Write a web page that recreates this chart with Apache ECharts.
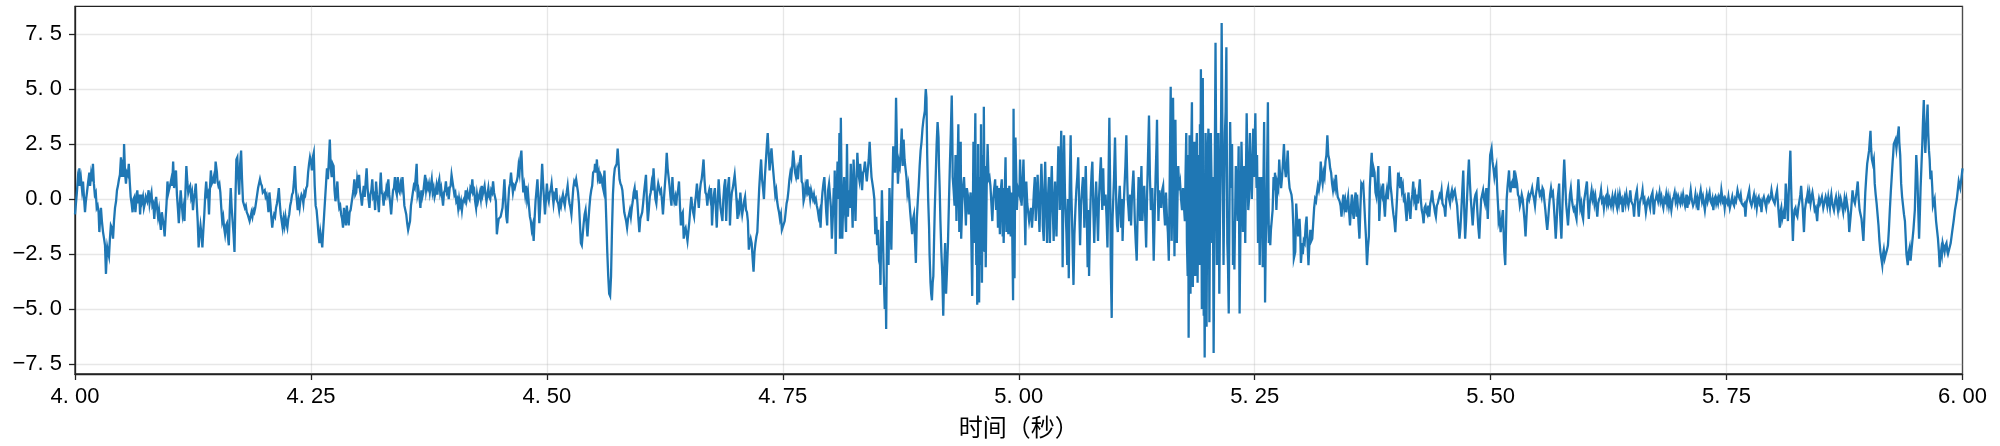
<!DOCTYPE html>
<html><head><meta charset="utf-8">
<script src="https://cdn.jsdelivr.net/npm/echarts@6/dist/echarts.min.js"></script>
<style>html,body{margin:0;padding:0;background:#fff}#c{width:2000px;height:446px}</style>
</head><body><div id="c"></div>
<script>
// Each block: [milliseconds after block start, amplitude]
const s400=[[0,-0.7],[1,-0.2],[2,0.3],[3,0.9],[4,0.6],[4.6,1.4],[5.5,0.6],[6.4,0.9],[7.5,0.4],[8.5,0.8],[9.5,0.1],[10.6,-0.6],[11.5,-0.1],[12.7,0.3],[14,0.8],[15.2,1.2],[16,0.6],[17,1.1],[18,0.8],[19,1.6],[20,0.7],[21,0.2],[22,0.3],[23,-0.4],[24,-0.3],[25,-0.6],[25.8,-1.5],[26.6,-0.9],[27.5,-0.4],[28.5,-1.0],[29.7,-1.5],[30.8,-1.8],[31.8,-2.1],[32.8,-3.4],[33.5,-2.7],[34.2,-2.2],[35,-2.4],[36,-2.6],[37,-1.8],[38,-1.2],[39,-1.3],[40.3,-1.8],[41.3,-1.0],[42.4,-0.4],[43.5,-0.1],[44.5,0.4],[45.5,0.6],[46.6,0.9],[47.6,1.1],[48.7,1.9],[49.5,1.0]];
const s405=[[0.6,1.8],[1.4,1.0],[2,2.5],[3,1.2],[4,0.7],[5,1.2],[6,1.1],[7,1.6],[8,0.8],[9,0.1],[10,-0.2],[11,-0.6],[12,0],[13,0.1],[14,-0.6],[15,-0.1],[16,0.4],[17,-0.2],[18,0.2],[19,-0.7],[20,0.2],[21,-0.1],[22,0.1],[23,-0.4],[24,-0.2],[25,0.1],[26.5,-0.1],[28,0.4],[29,-0.2],[30,0.1],[31,0.3],[32,-0.3],[33,-0.2],[34,-0.9],[35,-0.3],[36,0.1],[37,-0.4],[38,-0.8],[39,-0.5],[40,-1.0],[41,-1.4],[42,-0.6],[43,-0.9],[44,-1.2],[45,-1.7],[46,-0.9],[47,-0.2],[48,0.8],[49,0.3]];
const s410=[[0.6,0.6],[2,0.9],[3,0.6],[4,1.7],[5,0.5],[6,1.0],[7,1.3],[8,0.2],[9,-0.4],[10,-1.1],[11,-0.3],[12,0.4],[13,-0.2],[14,-0.7],[15,-0.4],[16,-1.0],[17,0.3],[18,1.5],[19,0.8],[20,0.3],[21,0.5],[22,0.6],[23,0.1],[24,0.3],[25,-0.5],[26,0],[27,0.3],[28,0.7],[29,-0.2],[30,-1.0],[31,-2.2],[32,-1.6],[33,-1.2],[34,-1.6],[35,-2.2],[36,-1.4],[37,-0.7],[38,0.2],[39,0.8],[40,0.2],[41,0.3],[42,-0.7],[43,0.5],[44,1.3],[45,0.7],[46,0.8],[47,1.0],[48,0.7],[49,1.7]];
const s415=[[0.4,1.2],[1,0.8],[2,0.6],[3,0.7],[4,0.3],[5,-0.4],[6,-1.0],[7,-0.8],[8,-1.3],[9,-1.6],[10,-1.2],[11,-1.1],[12,-1.7],[13,-2.1],[14,-0.5],[15,0.5],[16,-0.4],[17,-1.0],[18,-1.6],[19,-2.4],[20,0],[21,1.8],[22,1.9],[23,0.9],[24,0.2],[25,1.6],[26,2.2],[27,0.9],[28,-0.1],[29,-0.1],[30,-0.4],[31,-0.3],[32,-0.6],[33,-0.7],[34,-0.7],[35,-1.0],[36,-0.8],[37,-0.6],[38,-0.8],[39,-0.5],[40,-0.6],[41,-0.4],[42,-0.1],[43,0.2],[44,0.5],[45,0.5],[46,0.9],[47,0.7],[48,0.6],[49,0.3]];
const s420=[[1,0.4],[2,0.1],[3,0.2],[4,-0.1],[5,-0.6],[6,0.3],[7,-0.2],[8,-0.8],[9,-1.3],[10,-0.9],[11,-0.7],[12,-0.8],[13,-0.4],[14,-0.2],[15,0.1],[16,0.5],[17,-0.2],[18,-0.7],[19,-1.0],[20,-1.3],[21,-0.9],[22,-1.2],[23,-0.8],[24,-1.1],[25,-1.3],[26,-0.9],[27,-0.7],[28,-0.3],[29,-0.1],[30,0.2],[31,0.3],[32,0.8],[33,1.5],[34,0.5],[35,0],[36,-0.5],[37,-0.1],[38,-0.4],[39,0],[40,0.2],[41,0.1],[42,-0.2],[43,0.3],[44,0.2],[45,0.5],[46,0.6],[47,1.2],[48,1.6],[49,1.9]];
const s425=[[0.4,1.6],[1,1.3],[2,1.9],[3,2.1],[4,0.6],[5,-0.3],[6,-0.5],[7,-1.0],[8,-1.6],[9,-2.0],[10,-1.5],[11,-1.8],[12,-2.2],[13,-1.4],[14,-0.7],[15,0],[16,0.7],[17,1.4],[18,0.9],[19,0.9],[20,2.7],[21,1.4],[22,1.0],[23,1.6],[24,1.5],[25,0.4],[26,-0.1],[27,0.3],[28,0.8],[29,0],[30,-0.4],[31,-0.3],[32,-0.7],[33,-0.9],[34,-1.3],[35,-0.4],[36,-0.8],[37,-1.2],[38,-0.3],[39,-0.8],[40,-1.2],[41,-0.6],[42,-0.5],[43,-0.2],[44,0.1],[45,0.4],[46,0.9],[47,0.2],[48,0.3],[49,0.9]];
const s430=[[0.4,0.5],[1,1.1],[2,0.4],[3,0.1],[4,-0.3],[5,0.2],[6,0.6],[7,0.1],[8,0.8],[9,1.4],[10,0.5],[11,0],[12,-0.4],[13,0.2],[14,0.4],[15,0.9],[16,0.1],[17,0.2],[18,-0.5],[19,0.8],[20,0.2],[21,-0.1],[22,-0.6],[23,0.4],[24,1.2],[25,0.3],[26,0.2],[27,-0.3],[28,0.2],[29,0.1],[30,0.5],[31,0.3],[32,0.9],[33,0.2],[34,-0.2],[35,-0.7],[36,-0.1],[37,0.4],[38,0.5],[39,1.0],[40,0.4],[41,0.2],[42,1.0],[43,0.4],[44,0.3],[45,0.7],[46,0.5],[47,1.0],[48,0.4],[49,-0.3]];
const s435=[[1,-0.7],[2,-1.1],[3,-1.4],[4,-1.2],[5,-1.0],[6,-0.3],[7,0],[8,0.3],[9,0.6],[10,0.5],[11,1.0],[12,1.6],[13,0.2],[14,0.4],[15,0.1],[16,-0.4],[17,0.4],[18,0.1],[19,0.3],[20,0.7],[21,1.1],[22,0.4],[23,0.7],[24,0.5],[25,0.7],[26,0.3],[27,0.6],[28,0.9],[29,0.3],[30,0.5],[31,0.1],[32,0.3],[33,0.6],[34,0.2],[35,0.7],[36,0.9],[37,0.3],[38,0.5],[39,0.1],[40,-0.3],[41,0.3],[42,0.4],[43,0.8],[44,0.3],[45,0.4],[46,0],[47,0.5],[48,0.6],[49,1.1]];
const s440=[[1,0.5],[2,0.2],[3,0.3],[4,-0.1],[5,0],[6,-0.4],[7,0],[8,-0.3],[9,-0.1],[10,-0.5],[11,-0.1],[12,0],[13,-0.1],[14,0.4],[15,0],[16,0.3],[17,0.1],[18,0],[19,0.5],[20,0.4],[21,0.9],[22,0.3],[23,0.4],[24,-0.1],[25,-0.4],[26,0.2],[27,-0.1],[28,0.1],[29,0.3],[30,0],[31,0.6],[32,0.2],[33,0.4],[34,0.6],[35,0.2],[36,-0.1],[37,0.2],[38,0.5],[39,0.1],[40,0],[41,0.4],[42,0.3],[43,0.8],[44,0.3],[45,0.1],[46,-0.1],[47,-1.6],[48,-1.2],[49,-0.9]];
const s445=[[1,-0.8],[2,-0.6],[3,-0.4],[4,0.2],[5,0.9],[6,0],[7,-0.8],[8,-1.1],[9,-0.2],[10,0.5],[11,0.7],[12,1.2],[13,0.7],[14,0.3],[15,0.6],[16,0.5],[17,0.7],[18,0.8],[19,1.0],[20,1.5],[21,1.2],[22,1.9],[23,2.2],[24,1.1],[25,0.3],[26,0.6],[27,0.2],[28,0.6],[29,0],[30,0.3],[31,-0.3],[32,-0.8],[33,-1.0],[34,-1.4],[35,-1.2],[36,-1.9],[37,-0.9],[38,-0.1],[39,0.4],[40,0.9],[41,0],[42,-1.1],[43,-0.3],[44,0.6],[45,1.6],[46,0.7],[47,0],[48,-0.7],[49,0]];
const s450=[[0,0.7],[1,0.1],[2,-0.1],[3,0.3],[4,0.4],[5,0.7],[6,0.2],[7,-0.2],[8,0.2],[9,0.1],[10,0.5],[11,-0.1],[12,-0.2],[13,-0.5],[14,-0.1],[15,-0.3],[16,0],[17,0.2],[18,-0.1],[19,-0.3],[20,0.1],[21,0.3],[22,0.6],[23,0.1],[24,-0.2],[25,-0.4],[26,-0.7],[27,-0.1],[28,0.5],[29,0.8],[30,0.7],[31,0.9],[32,0.9],[33,0.3],[34,-0.2],[35,-1.1],[36,-2.0],[37,-2.1],[38,-1.6],[39,-1.1],[40,-0.7],[41,-0.5],[42,-1.1],[43,-1.7],[44,-1.0],[45,-0.4],[46,0.1],[47,0.4],[48,0.6],[49,1.2]];
const s455=[[0.5,1.3],[1,1.6],[2,1.2],[3,1.8],[4,1.0],[5,1.2],[6,0.7],[7,1.1],[8,1.0],[9,0.6],[10,0.4],[11,1.3],[12,0.3],[13,-1.0],[14,-2.4],[15,-3.5],[16,-4.3],[17,-4.4],[18,-3.5],[19,-1.4],[20,0.2],[21,1.0],[22,1.4],[23,1.5],[24,1.6],[25,2.3],[26,1.6],[27,0.9],[28,0.7],[29,0.6],[30,0.4],[31,-0.1],[32,-0.6],[33,-0.8],[34,-1.0],[35,-1.3],[36,-0.9],[37,-0.7],[38,-0.5],[39,-0.8],[40,-0.4],[41,-0.1],[42,0.3],[43,0.5],[44,0],[45,0.4],[46,-0.2],[47,-0.9],[48,-1.5],[49,-0.9]];
const s460=[[1,-0.6],[2,-0.2],[3,0.3],[4,0.7],[5,1.1],[6,-0.1],[7,-1.0],[8,-0.5],[9,0.1],[10,0.3],[11,0.7],[12,0.4],[13,1.4],[14,0.6],[15,0],[16,-0.2],[17,0.4],[18,0.7],[19,0.7],[20,0.3],[21,0.4],[22,-0.1],[23,-0.7],[24,0],[25,0.6],[26,1.2],[27,2.1],[28,1.4],[29,1.0],[30,0.6],[31,0.1],[32,-0.3],[33,1.0],[34,0.2],[35,-0.1],[36,0.1],[37,-0.3],[38,0.2],[39,0.4],[40,0.8],[41,-0.3],[42,-1.2],[43,-0.7],[44,-0.6],[45,-1.8],[46,-1.4],[47,-1.3],[48,-1.6],[49,-1.9]];
const s465=[[1,-1.0],[2,-0.4],[3,0.1],[4,-0.3],[5,-0.6],[6,-0.8],[7,-0.2],[8,0.2],[9,0.7],[10,0.1],[11,-0.4],[12,0.3],[13,0.7],[14,0.9],[15,1.3],[16,1.8],[17,0.9],[18,0.3],[19,0.2],[20,-0.3],[21,0.2],[22,0.4],[23,0.1],[24,0.5],[25,-1.2],[26,-0.3],[27,0.2],[28,0.5],[29,-0.4],[30,-1.3],[31,-0.2],[32,0.9],[33,0.2],[34,-0.4],[35,-0.7],[36,-1.0],[37,0],[38,0.6],[39,0.9],[40,-1.0],[41,0.2],[42,0.6],[43,1.0],[44,-1.2],[45,-0.2],[46,0.3],[47,0.5],[48,0.8],[49,1.1]];
const s470=[[0.5,0.3],[1,-0.1],[2,-0.9],[3,-0.3],[4,-0.5],[5,0.3],[6,-0.3],[7,-0.7],[8,-0.4],[9,-0.1],[10,0.1],[11,-0.5],[12,-0.6],[13,-1.0],[14,-2.3],[15,-2.0],[16,-1.8],[17,-2.0],[18,-2.7],[19,-3.3],[20,-2.4],[21,-2.0],[22,-1.7],[23,-1.5],[24,-0.5],[25,0.5],[26,1.2],[27,1.8],[28,0.9],[29,0.5],[30,0],[31,1.0],[32,1.7],[33,2.4],[34,3.0],[35,2.1],[36,1.3],[37,1.9],[38,2.3],[39,1.7],[40,1.2],[41,0.7],[42,0.2],[43,0.4],[44,-0.1],[45,-0.4],[46,-0.6],[47,-0.9],[48,-0.7],[49,-1.4]];
const s475=[[1,-1.4],[2,-1.0],[3,-0.6],[4,-0.2],[5,0],[6,0.4],[7,0.9],[8,1.2],[9,1.0],[10,1.5],[11,2.2],[12,1.7],[13,1.2],[14,1.0],[15,1.3],[16,0.9],[17,1.5],[18,1.7],[19,2.0],[20,0.8],[21,0.7],[22,-0.1],[23,0.1],[24,0.6],[25,0.4],[26,0.9],[27,0.3],[28,0.4],[29,0],[30,0.4],[31,0.4],[32,0],[33,0.2],[34,-0.1],[35,0],[36,-0.3],[37,-0.5],[38,-0.8],[39,-0.6],[40,-1.3],[41,-0.3],[42,0.3],[43,0.7],[44,1.0],[45,0.2],[46,-0.6],[47,-1.2],[48,0.4],[49,0.7]];
const s480=[[1,-0.4],[2,-1.8],[3,-0.8],[4,0.5],[4.5,-0.5],[5,1.3],[6,-2.5],[7,0.2],[8,1.7],[9,0],[10,3.0],[10.5,-1.8],[11.5,3.7],[12.3,0.5],[13,-1.8],[14,-0.2],[15,1.0],[16,-0.6],[17,-1.5],[18,2.5],[19,-0.8],[20,0.4],[21,-0.4],[22,1.6],[23,0.2],[24,-1.3],[25,1.8],[26,0.5],[27,-1.0],[28,0.8],[29,2.1],[30,1.2],[31,0.9],[32,1.6],[33,1.0],[34,0.4],[35,1.2],[36,1.3],[37,1.7],[38,1.2],[39,0.8],[40,1.3],[41,1.8],[42,2.6],[43,1.7],[44,1.0],[45,0.7],[46,0.4],[47,0],[48,-1.6],[49,-0.8]];
const s485=[[0,-2.1],[1,-1.4],[2,-2.8],[3,-3.0],[3.5,-3.9],[4.2,-1.6],[5,0.4],[6,-1.5],[7,-3.5],[8,-5.0],[9,-4.0],[9.5,-5.9],[10.5,-1.0],[11,-1.9],[12,-3.0],[13,0.5],[14,-0.8],[15,-2.3],[16,0.2],[17,2.4],[18,1.5],[19,1.2],[19.5,3],[20,4.6],[21,2.2],[22,0.7],[23,1.7],[24,1.5],[25,2.2],[26,3.2],[27,1.5],[28,2.7],[29,1.8],[30,1.4],[31,1.0],[32,0.3],[33,0.6],[34,0],[35,-0.6],[36,-1.1],[37,-1.6],[38,-0.9],[39,-0.7],[40,-1.8],[41,-2.9],[42,-0.9],[43,-0.1],[44,0.6],[45,1.5],[46,2.2],[47,2.6],[48,3.2],[49,3.6]];
const s490=[[0.5,4.0],[1,4.6],[1.5,5.0],[2.2,4.6],[3,2],[4,0],[5,-1.3],[5.5,-2.5],[6.5,-3.8],[7.2,-4.3],[8,-4.6],[8.8,-3.8],[9.5,-3.5],[10.2,-2.0],[11,-0.5],[12,1.0],[13,2.5],[14,3.5],[15,2.8],[15.5,1.5],[16.2,0.5],[17,-1],[18,-2.4],[19,-3.5],[20,-5.3],[21,-3.2],[22,-2.0],[23,-4.3],[24,-3.2],[25,-2.0],[26,-0.2],[27,1.5],[28,3.0],[29,4.7],[29.6,3],[30,1],[31,0.4],[32,-0.3],[33,2.0],[34,-1],[35,1],[36,3.4],[37,-1.5],[38.5,2.6],[39,-1.8],[40,-0.3],[41,0.6],[42,1.0],[43,0],[44,-1.2],[45,0.5],[46,0.2],[47,-0.7],[48,-0.2],[49,0.3]];
const s495=[[0.7,-4.4],[1.3,-1],[2,2.6],[2.5,0],[3,-2],[3.5,2],[4,3.9],[4.5,0],[5,-3],[5.5,1],[6,-4.8],[6.5,-2],[7,2.5],[7.5,-1],[8,-4.7],[8.5,-2],[9,1],[9.5,-3],[10,3.4],[10.5,0],[11,-3.8],[11.5,-1],[12,2],[12.5,-2.4],[13,4.2],[13.5,1],[14,-2],[14.5,1.5],[15,-3.1],[16,0.5],[17,2.5],[18,0.9],[19,1.0],[20,0.6],[21,-0.2],[22,-1],[23,0],[24,0.5],[25,0.9],[26,-0.5],[27,0.6],[28,-1.3],[29,0.5],[30,-1.6],[31,0.4],[32,0.9],[33,-1.7],[33.5,0.5],[34,-2.0],[35,0],[36,1.9],[37,-1.5],[37.5,0.3],[38,0.5],[38.5,-1.2],[39,-1.6],[40,0.6],[40.5,0.3],[41.5,-1.7],[42,0.3],[43,-1.2],[44,-4.6],[44.5,4.1],[45,0],[45.5,-3.6],[46.5,2.8],[47.5,0.8],[48,-0.5],[49,0.5]];
const s500=[[0.7,0.2],[1.4,1.8],[2.2,0.4],[3,-0.3],[4,0.6],[5,1.8],[6,0],[7,-2.1],[8,0.8],[9,-0.2],[10,-0.6],[11,-1.0],[12,-0.7],[13,-0.4],[14,-1.3],[15,-0.6],[16,0.3],[17,1.0],[18,-1.0],[19,0.2],[20,1.1],[21,-0.4],[22,-1.5],[23,0.3],[24,1.6],[25,0.3],[25.5,-1.2],[26.5,-1.9],[27.2,0.2],[28,1.7],[29,-0.3],[30,-2.0],[31,0.1],[32,1.0],[33,-2.0],[34,0.2],[35,1.5],[36,-0.4],[37,-1.9],[38,0.2],[38.5,0.8],[39,-0.4],[40,-1.7],[41,0.5],[42,2.4],[43,1.2],[43.5,-0.5],[44.2,1.2],[45,3.1],[46,0],[46.5,-3.1],[47.2,0],[48,2.9],[49,0.2]];
const s505=[[0.5,-1.5],[1.4,-3.0],[2.2,0],[3,-3.6],[4,0.5],[5,2.9],[5.7,0.4],[6.5,-1],[7.2,-2.5],[8,-3.9],[9,-1.6],[10,-0.5],[11,0.4],[12,1.0],[13,1.9],[14,-0.2],[15,-2.1],[16,-0.3],[17,0.4],[18,1.0],[19,0],[19.5,-1.3],[20.2,0.2],[21,1.5],[22,-0.5],[23,-3.1],[24,-0.5],[24.5,-3.5],[25.5,-1],[26.5,0.5],[27.2,1.2],[28,1.7],[29,-0.4],[30,-2.0],[31,-0.3],[32,0.8],[33,-0.5],[34,-1.9],[35,0],[36,1.0],[37,1.9],[38,0.3],[38.5,-0.5],[39.5,1.4],[40,0.4],[41,-0.3],[42,0.2],[43,-0.8],[44,-2.2],[45,0.6],[46,3.7],[47,0],[47.5,-3],[48.5,-5.4],[49.3,-1]];
const s510=[[1,1],[2,2.8],[3,0.5],[3.5,-0.5],[4.2,-1.2],[5,-1.5],[6,-0.2],[7,0.6],[8,-0.5],[8.5,-1.3],[9.5,0],[10,-1.9],[11,-0.5],[12,0.5],[13,1.5],[14,2.9],[15,0.8],[15.5,0],[16.2,-0.4],[17,-1],[18,0.2],[19,-1.2],[20,0.2],[21.5,1.3],[22.2,0.3],[23,-1],[24,-2.0],[25,-2.8],[26,-0.6],[27,1.0],[28,0],[28.5,-1.0],[29.2,0.3],[30,1.5],[31,-1],[32,0],[33,0.6],[34,-0.8],[35,-2.2],[36,0.2],[37,2],[38,3.8],[39,1],[40,-0.5],[41,0.2],[41.5,0.5],[42.2,-1],[43,-2.8],[44,-0.8],[45,1],[46,2.5],[46.5,3.6],[47.2,1],[48,-1.0],[49,0.4]];
const s515=[[1,-0.4],[2,0.4],[3,0.6],[4,-0.5],[5,-1.2],[6,0.3],[7,-0.8],[8,-1.5],[9,-2.8],[10,1],[11,5.1],[12,-1.9],[13,1],[13.5,4.6],[14.2,1],[15,-2.6],[16,3.6],[16.7,0.5],[17.5,-2.0],[18.2,0],[19,1.5],[20,0.4],[21,0.7],[22,0],[23,-0.5],[24,0.5],[25,-0.3],[26,-1],[26.7,1],[27.5,3.0],[28.2,-2],[29,-3.5],[29.5,2],[30,-6.3],[30.5,-1],[31,2.9],[31.5,-2],[32,-4.3],[32.7,2],[33.5,4.4],[34,0],[34.5,-4.0],[35.2,0],[36,2.6],[36.5,-1],[37,-3.5],[37.5,-1],[38,2.0],[38.7,3],[39.5,-3.8],[40.2,0],[41,2],[41.5,-3],[42,3.4],[42.5,0],[43,5.9],[43.5,1],[44,-5.0],[44.5,-1],[45,5.5],[45.5,0],[46,-5.3],[46.5,-3],[47,-7.2],[47.5,-3],[48,3.0],[48.5,0],[49,-5.8],[49.6,-1]];
const s520=[[0.5,2.5],[1,3.2],[1.5,0],[2,-5.6],[2.7,0],[3.5,3.0],[4.2,1],[5,-2],[5.7,1],[6.5,-7.0],[7.5,0],[8.5,7.1],[9.2,2],[10,-3],[10.7,0],[11.5,3],[12,0],[12.5,-4.3],[13.2,-1],[14,2],[14.5,4],[15,8.0],[16,2],[17,-3],[17.7,0],[18.5,3],[19.2,4],[20,6.9],[20.5,2],[21,-2],[21.7,-3],[22.5,-5.2],[23.2,-1],[24,3.5],[25,0.5],[26,2.5],[26.5,0],[27,-3.0],[27.7,-1],[28.5,-3.2],[29.2,-1],[30,1.5],[31,0.2],[32,-1],[32.5,1],[33,2.4],[33.5,-1],[34,-5.2],[35,-1],[36,2.6],[36.7,1],[37.5,-1.5],[38.2,0.2],[39,1.5],[39.5,0],[40,-2],[40.7,1],[41.5,3.9],[42.5,1],[43.2,-0.5],[44,0],[44.5,2],[45,3],[46,1],[47,0],[47.7,1.5],[48.5,3.2],[49.2,1]];
const s525=[[0.7,3.9],[1.4,1.5],[2,0.5],[2.5,2],[3,0],[3.5,-2],[4,0],[4.5,1],[5.3,-3],[6.2,-0.5],[7,1],[8,-1],[8.5,-3.1],[9.2,0.5],[10,3.5],[10.5,0],[11,-4.7],[11.7,-2],[12.5,-1],[13.2,1.5],[14,4.4],[14.5,1],[15,-2],[16,-1.2],[16.5,-2.1],[17.2,-1.4],[18,-1],[19,-0.5],[20,1.0],[21,0.4],[21.5,1.2],[22.2,0.5],[23,-0.5],[24,0.7],[25,0.5],[26,1.8],[27,1.0],[28,0.5],[29,1.0],[30,1.7],[31,2.5],[32,1.4],[33,1.0],[34,1.5],[35,2.2],[36,1.0],[37,0.5],[38,0.5],[39,0.2],[40,-0.2],[41,-1.3],[41.5,-2.7],[43,-2.4],[44,-0.2],[45,-1.0],[46,-1.7],[47,-1.2],[47.5,-0.9],[48.2,-1.5],[49,-2.9]];
const s530=[[0.5,-2.0],[1,-2.5],[2,-1.9],[3,-2],[4,-1.2],[5,-0.8],[6,-2.0],[7,-3.0],[8,-2],[9,-1.4],[10,-1.9],[11,-1.8],[12,-1.1],[13,-0.4],[14,0],[15,-0.1],[16,0.3],[17,0.6],[18,0.4],[19,0.7],[20,1.7],[21,1.0],[22,0.7],[23,1.2],[24,1.0],[25,1.7],[26,2.0],[27,2.9],[28,2.0],[29,1.8],[30,1.4],[31,1.2],[32,0.7],[33,0.4],[34,0.7],[35,0.5],[36,1.1],[37,0.5],[38,0.1],[39,0.1],[40,-0.1],[41,-0.3],[42,-0.8],[43,-0.2],[44,0.2],[45,-0.4],[46,-0.1],[47,-0.6],[48,-0.2],[49,0.1]];
const s535=[[1,-1.2],[2,-0.4],[3,0.2],[4,-0.6],[5,-0.9],[6,0],[7,0.3],[8,-0.8],[8.5,0.2],[9.5,-0.5],[10,-1.1],[11,-1.8],[12,-0.4],[13,0.7],[14,0.6],[15,0.7],[16,-0.1],[17,-1.0],[18,-1.8],[19,-3.0],[20,-2.2],[21,-1.7],[22,0.5],[23,1.4],[24,2.1],[25,1.0],[26,1.4],[27,1.2],[28,0.3],[29,0.1],[30,0.7],[31,1.5],[32,-1.0],[33,-0.1],[34,0.4],[35,0.2],[36,0.7],[37,-0.2],[38,-0.8],[39,0.1],[40,0.4],[41,0],[42,0.6],[43,1.5],[44,0.6],[45,0.2],[46,-0.3],[47,-0.7],[48,-1.0],[49,-1.5]];
const s540=[[1,0.2],[2,1.2],[3,0.6],[3.5,0.8],[4.2,0.5],[5,1.0],[6,0.4],[7,0.6],[8,0],[9,0.1],[10,-0.5],[11,-1.0],[12,-0.1],[13,0.3],[14,-0.5],[15,-0.9],[16,-0.1],[17,0.2],[18,0.8],[19,0],[20,0.2],[21,-0.5],[22,0.2],[23,-0.2],[24,0.4],[25,0.9],[26,0],[27,-0.5],[28,-0.7],[29,-1.1],[30,-0.4],[31,-0.3],[32,-0.6],[33,-0.7],[34,-0.3],[35,-0.8],[36,-0.2],[37,0],[38,0.4],[39,-0.1],[40,-0.3],[41,-0.6],[42,-0.8],[43,-0.3],[44,-0.2],[45,0],[46,0.2],[47,0.1],[48,0.4],[49,-0.2]];
const s545=[[1,-0.4],[2,-0.8],[3,0],[4,0.3],[5,0.5],[6,0],[7,-0.2],[8,0.2],[9,0.4],[10,0.1],[11,0.3],[12,0.4],[13,0.1],[14.5,-0.3],[15.5,-1.0],[17,-1.8],[18,-1.3],[19,-0.5],[20,0.4],[21,1.3],[22,-0.4],[23,-1.8],[24,-1],[25,0],[26,1],[27,1.8],[28,0.8],[29,0],[30,-0.6],[31,-1.2],[32,-0.5],[33,0],[34,0.2],[35,0.3],[36,-0.6],[37,-1.3],[38,-1.8],[39,-0.8],[40,0],[41,0.2],[42,0.4],[43,0],[44,-0.2],[45,0.3],[45.5,0.5],[46.2,-0.2],[47,-0.9],[48,0.5],[49,1.4],[49.5,2.0]];
const s550=[[1,2.3],[2,1.7],[3,1.4],[4,1.0],[5,1.3],[6,1.5],[7,0.4],[8,-0.4],[8.5,-1.0],[9.5,-0.8],[10.6,-1.5],[12,-0.9],[13,-0.5],[14.5,-2.4],[15.5,-3.0],[16.3,-1.4],[17,0],[18,0.6],[19.5,1.3],[20,0.8],[21,0.3],[22,0.7],[23,0.8],[24,0.5],[25,1.3],[26,0.7],[26.5,0.5],[27.2,0.9],[28,0.7],[29,0.2],[30,0.1],[31,-0.3],[32,-0.1],[33,0.2],[34,0],[35,-0.5],[36,-1.0],[37,-1.7],[38,-0.8],[39,0],[40,0.2],[41,0],[42,0.2],[43,0.3],[44,0.5],[45,0.2],[46,0],[47,-0.3],[48,0.2],[49,0.5]];
const s555=[[0.3,1.0],[1,0.5],[2,0.2],[3,0.3],[4,0.1],[5,0.5],[6,0.4],[7,-0.1],[8,-0.5],[9,-1.0],[10,-1.4],[11,-0.9],[12,-0.3],[13,0.2],[14,0.5],[15,0.2],[16,0.3],[17,-0.3],[18,-1.0],[19,-1.8],[20,-1],[21,0],[22.6,0.7],[23.5,-0.6],[25,-1.8],[26,-0.4],[27,0.8],[28,1.8],[29,0.8],[30,-0.2],[31,-0.7],[32,-1.2],[33,-0.5],[34,0.2],[35,0.5],[36,0],[37,-0.3],[38,-0.5],[39,-0.4],[40,-0.7],[41,-0.9],[42,0],[43,0.9],[44,0.2],[45,-0.4],[46,-0.2],[47,-0.7],[48,-0.9],[49,-0.1]];
const s560=[[1,0.5],[2,0.8],[3,-0.1],[4,-0.9],[5,-0.2],[6,0.1],[7,0.4],[8,0],[9,0.2],[10,-0.2],[11,0.1],[12,-0.3],[13,-0.8],[14,-0.2],[15,0],[16,0.1],[17,0.4],[18,-0.1],[19,0],[20,-0.4],[21,0],[22,0.1],[23,-0.2],[24,0.2],[25,-0.2],[26,0],[27.5,-0.3],[29,0.1],[30,-0.3],[31,0],[32,0.2],[33,-0.2],[34,-0.4],[35,0.1],[36,-0.2],[37,0.2],[38,-0.1],[39,0],[40,-0.6],[41,-0.1],[42,0.1],[43,-0.2],[44,0.2],[45,-0.1],[46,-0.3],[47,0],[48,0.4],[49,-0.1]];
const s565=[[1,-0.3],[2,-0.8],[3,-0.1],[4,0.2],[5,0.4],[6,-0.2],[7,-0.8],[8,-0.2],[9,0],[10,0.1],[11,0.4],[12,-0.1],[13,0],[14.5,-0.6],[16,-0.1],[17,0],[18,-0.2],[19,-0.4],[20,0.1],[21.5,0.3],[22.2,-0.2],[23,-0.7],[24,-0.1],[25,0],[26,0.2],[27.5,-0.1],[29,0.3],[30,-0.1],[31,0.1],[32,-0.2],[33,-0.4],[34,0],[35,-0.1],[36,0.2],[37,-0.2],[38,0.1],[39,-0.3],[40,0],[41.5,-0.5],[43,0],[44,0.1],[45,0.3],[46,-0.1],[47,0.1],[48,-0.2],[49,0.1]];
const s570=[[1,-0.2],[2,0.1],[3,-0.1],[4,0.2],[5,-0.1],[6,-0.3],[7,0],[7.5,0.2],[8.5,-0.4],[9.5,0],[10.5,-0.1],[12,0.4],[13,0],[14.5,-0.3],[16,-0.1],[17,0.2],[18,-0.2],[19,0],[20,-0.5],[21,0],[22.6,0.4],[24,-0.1],[25,0.1],[26,-0.2],[27,-0.5],[28,-0.1],[29,0.2],[30,-0.1],[31,0.1],[32,0.3],[33,-0.1],[34,-0.2],[35,0],[36,-0.5],[37,0],[38,0.1],[39,-0.2],[40,0],[41,-0.2],[42,0.1],[43.5,-0.1],[44.5,0.4],[46,-0.1],[47,0],[48,-0.4],[49,0]];
const s575=[[1,-0.2],[2,0.1],[3.5,-0.4],[5,-0.1],[6,0.1],[7,-0.2],[8,-0.3],[9,0],[10,-0.1],[11.6,0.4],[13,0.1],[14,0],[15,0.2],[16,-0.2],[17.6,-0.3],[19,-0.2],[20,-0.8],[21,-0.2],[22,0],[23,0.2],[24,0.4],[25,-0.1],[26.5,-0.3],[28,0],[29,0.2],[30,-0.2],[31,0],[32,-0.4],[33,0],[34,0.1],[35,-0.2],[36,-0.1],[37,-0.6],[38,-0.1],[39.5,0.1],[41,-0.2],[42,-0.4],[43,0],[44,0.1],[45,-0.1],[46,0],[47,0.2],[47.6,0.4],[49,0]];
const s580=[[1,-0.2],[2,0.1],[3.5,0.4],[5,-0.5],[6.4,-1.3],[7,-0.6],[8,-0.4],[9,-0.9],[10,-0.7],[11,-0.5],[11.6,-0.9],[12.7,0.7],[14,-0.2],[15,-1.0],[16,0.4],[17,1.6],[17.6,2.2],[18.3,0.8],[19,-0.3],[20.3,-1.9],[21,-1.0],[22,-0.5],[23,-0.4],[24,-0.7],[25,-0.8],[26,-0.4],[27.5,0],[28.2,0.2],[29,0.6],[30,0],[30.7,-0.4],[32,-1.5],[33,-0.5],[34.6,0],[35.3,0.1],[36,0.3],[37,-0.2],[38,0.2],[39,-0.2],[40,0.1],[41,0.3],[42,0],[43.4,-0.5],[44.5,-0.4],[46,-1.0],[47,-0.3],[48,0],[49,-0.2]];
const s585=[[1,0.1],[2.5,-0.4],[4,-0.1],[5,0.1],[6,-0.1],[6.7,-0.3],[7.8,0.1],[9.5,-0.4],[10,-0.1],[11,0.2],[12,-0.2],[13.8,-0.5],[15,-0.1],[16,0.1],[17,-0.2],[18,-0.5],[19,0],[20,-0.3],[21,0],[22,-0.2],[23.6,-0.6],[25,0],[26,-0.3],[27,0],[28,-0.3],[29,-0.6],[30,-1.5],[31,-1.0],[32,-0.5],[33.5,0.4],[34.5,0],[36,-0.2],[37,0.1],[38,0.4],[39,0.8],[40,0],[41,-0.5],[42,-0.7],[43,-0.9],[44,-1.4],[45,-1.9],[46,-0.8],[47,0.3],[48,1.0],[49,1.6]];
const s590=[[1,2.2],[2,2.8],[2.5,3.1],[3.2,2.3],[4,1.8],[5,1.6],[6,1.8],[7,0.7],[8,0.2],[9,-0.2],[10,-0.7],[11,-1.2],[12,-1.9],[13,-2.4],[14,-2.7],[15,-3.0],[15.8,-2.5],[16.6,-2.3],[17.6,-2.7],[18.7,-2.5],[20,-2.3],[21,-2.1],[22,-1.4],[23,-0.5],[24,0.3],[25,1.0],[26,1.7],[26.5,2.0],[27.2,2.5],[28,2.5],[29,2.7],[30,2.3],[31,2.7],[32.5,3.3],[33,2.6],[34,2.0],[35,0.7],[36,0.1],[37,-0.3],[38,-0.7],[39,-1.0],[40,-1.9],[40.6,-2.5],[42,-3.0],[43,-2.4],[44,-2.2],[45,-2.8],[46,-2.3],[47,-2.3],[48,-1.4],[49.5,-0.5]];
const s595=[[1,2.0],[2,1.2],[2.5,0.5],[3.2,-0.6],[4,-1.8],[5,-0.4],[5.6,0.5],[6.5,1.5],[7.4,2.5],[8.2,3.6],[9,4.5],[9.8,3.0],[10.6,2.1],[11.5,3.0],[13,4.3],[13.7,3.0],[14.5,2.2],[15.2,1.8],[16,0.9],[17,1.3],[18,0.5],[18.7,-0.3],[20.5,0],[21.2,-0.5],[22,-1.0],[23,-1.4],[24,-1.8],[25,-2.4],[25.8,-3.1],[26.6,-2.6],[27.5,-2.3],[28.2,-2.5],[29,-2.0],[30,-2.2],[31,-2.4],[32,-2.1],[33,-2.0],[34,-2.4],[34.6,-2.5],[36,-2.5],[37.5,-2.0],[39,-1.5],[40.6,-1.0],[42,-0.5],[44,0],[45,0.4],[46,0.8],[47,0.6],[47.6,0.5],[49,1.0],[50,1.4]];

const blocks=[s400,s405,s410,s415,s420,s425,s430,s435,s440,s445,s450,s455,s460,s465,s470,s475,s480,s485,s490,s495,s500,s505,s510,s515,s520,s525,s530,s535,s540,s545,s550,s555,s560,s565,s570,s575,s580,s585,s590,s595];
const yTicks=[-7.5,-5,-2.5,0,2.5,5,7.5];
const xTitle='时间（秒）';

const points=[];
blocks.forEach((b,k)=>b.forEach(p=>points.push([4+k*0.05+p[0]/1000,p[1]])));

const fmt=(v,d)=>{const s=Math.abs(v).toFixed(d).replace('.','. ');return (v<0?'\u2212':'')+s;};
const font='"Liberation Sans",Arial,sans-serif';
const grid='rgba(176,176,176,0.3)';
const chart=echarts.init(document.getElementById('c'),null,{renderer:'canvas'});
chart.setOption({
  animation:false,backgroundColor:'#fff',
  grid:{left:75,right:37.5,top:6.3,bottom:72,show:true,borderColor:'#222',borderWidth:1.3,backgroundColor:'transparent'},
  xAxis:{type:'value',min:4,max:6,interval:0.25,
    name:xTitle,nameLocation:'middle',nameGap:41,nameTextStyle:{fontFamily:'"Noto Sans CJK SC"',fontSize:24,color:'#000'},
    axisLine:{show:true,onZero:false,lineStyle:{color:'#222',width:1.3}},
    axisTick:{show:true,length:6,lineStyle:{color:'#222',width:1.3}},
    axisLabel:{fontFamily:font,fontSize:22,color:'#000',margin:12,formatter:v=>fmt(v,2),showMinLabel:true,showMaxLabel:true,hideOverlap:false},
    splitLine:{show:true,lineStyle:{color:grid,width:1.3}}},
  yAxis:{type:'value',min:-7.95,max:8.76,
    axisLine:{show:true,onZero:false,lineStyle:{color:'#222',width:1.3}},
    axisTick:{show:true,length:6,lineStyle:{color:'#222',width:1.3},customValues:yTicks},
    axisLabel:{fontFamily:font,fontSize:22,color:'#000',margin:13,formatter:v=>fmt(v,1),customValues:yTicks},
    splitLine:{show:true,lineStyle:{color:grid,width:1.3}}},
  series:[{type:'line',data:points,showSymbol:false,symbol:'none',sampling:false,lineStyle:{color:'#1f77b4',width:2.3,join:'miter'},clip:true}]
});
</script></body></html>
